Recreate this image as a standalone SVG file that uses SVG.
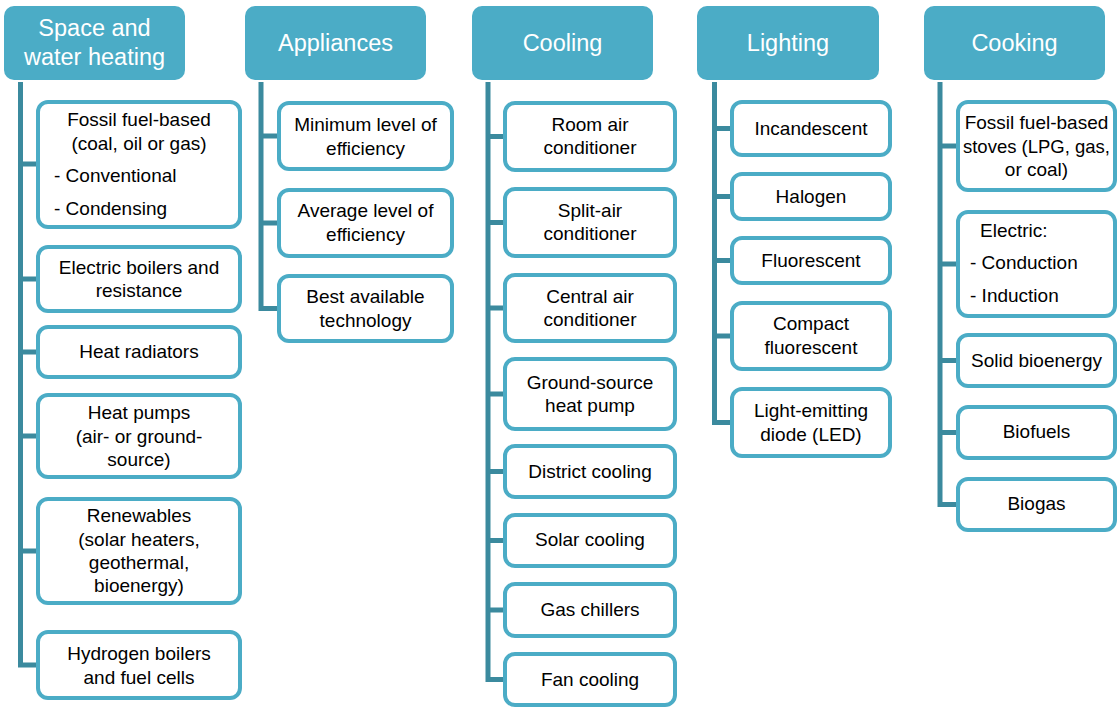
<svg xmlns="http://www.w3.org/2000/svg" width="1118" height="708" viewBox="0 0 1118 708">
<style>
.hdr{fill:#4BACC6}
.hdr-t{font-family:"Liberation Sans",Arial,sans-serif;font-size:23.5px;fill:#fff;text-anchor:middle}
.box{fill:#fff;stroke:#4BACC6;stroke-width:4}
.t{font-family:"Liberation Sans",Arial,sans-serif;font-size:19px;fill:#000;text-anchor:middle}
.tl{font-family:"Liberation Sans",Arial,sans-serif;font-size:19px;fill:#000}
.con{fill:none;stroke:#3B8A9E;stroke-width:5}
</style>
<rect width="1118" height="708" fill="#fff"/>
<g id="connectors">
<path class="con" d="M20.5 82 V665 H38 M20.5 164 H38 M20.5 279 H38 M20.5 352 H38 M20.5 436 H38 M20.5 551 H38"/>
<path class="con" d="M261 82 V308.5 H279 M261 136 H279 M261 223 H279"/>
<path class="con" d="M488 82 V679.5 H505 M488 136.5 H505 M488 222.5 H505 M488 308 H505 M488 394 H505 M488 471.5 H505 M488 540.5 H505 M488 610 H505"/>
<path class="con" d="M714.5 82 V422.5 H732 M714.5 128.5 H732 M714.5 196.5 H732 M714.5 260.5 H732 M714.5 336 H732"/>
<path class="con" d="M940 82 V504.5 H958 M940 146 H958 M940 264 H958 M940 360.5 H958 M940 432.5 H958"/>
</g>
<g id="h-space"><rect class="hdr" x="4" y="6" width="181" height="74" rx="10"/><text class="hdr-t" x="94.5" y="36">Space and</text><text class="hdr-t" x="94.5" y="65">water heating</text></g>
<g id="h-appliances"><rect class="hdr" x="245" y="6" width="181" height="74" rx="10"/><text class="hdr-t" x="335.5" y="51">Appliances</text></g>
<g id="h-cooling"><rect class="hdr" x="472" y="6" width="181" height="74" rx="10"/><text class="hdr-t" x="562.5" y="51">Cooling</text></g>
<g id="h-lighting"><rect class="hdr" x="697" y="6" width="182" height="74" rx="10"/><text class="hdr-t" x="788" y="51">Lighting</text></g>
<g id="h-cooking"><rect class="hdr" x="924" y="6" width="181" height="74" rx="10"/><text class="hdr-t" x="1014.5" y="51">Cooking</text></g>

<g id="s1"><rect class="box" x="38" y="102" width="202" height="125" rx="10"/><text class="t" x="139" y="126">Fossil fuel-based</text><text class="t" x="139" y="150">(coal, oil or gas)</text><text class="tl" x="54" y="182">- Conventional</text><text class="tl" x="54" y="215">- Condensing</text></g>
<g id="s2"><rect class="box" x="38" y="247" width="202" height="64" rx="10"/><text class="t" x="139" y="274">Electric boilers and</text><text class="t" x="139" y="297">resistance</text></g>
<g id="s3"><rect class="box" x="38" y="327" width="202" height="50" rx="10"/><text class="t" x="139" y="358">Heat radiators</text></g>
<g id="s4"><rect class="box" x="38" y="395" width="202" height="82" rx="10"/><text class="t" x="139" y="419">Heat pumps</text><text class="t" x="139" y="443">(air- or ground-</text><text class="t" x="139" y="466">source)</text></g>
<g id="s5"><rect class="box" x="38" y="499" width="202" height="104" rx="10"/><text class="t" x="139" y="522">Renewables</text><text class="t" x="139" y="546">(solar heaters,</text><text class="t" x="139" y="569">geothermal,</text><text class="t" x="139" y="592">bioenergy)</text></g>
<g id="s6"><rect class="box" x="38" y="632" width="202" height="66" rx="10"/><text class="t" x="139" y="660">Hydrogen boilers</text><text class="t" x="139" y="684">and fuel cells</text></g>

<g id="a1"><rect class="box" x="279" y="103" width="173" height="66" rx="10"/><text class="t" x="365.5" y="131">Minimum level of</text><text class="t" x="365.5" y="155">efficiency</text></g>
<g id="a2"><rect class="box" x="279" y="190" width="173" height="66" rx="10"/><text class="t" x="365.5" y="217">Average level of</text><text class="t" x="365.5" y="241">efficiency</text></g>
<g id="a3"><rect class="box" x="279" y="276" width="173" height="65" rx="10"/><text class="t" x="365.5" y="303">Best available</text><text class="t" x="365.5" y="327">technology</text></g>

<g id="c1"><rect class="box" x="505" y="103" width="170" height="67" rx="10"/><text class="t" x="590" y="131">Room air</text><text class="t" x="590" y="154">conditioner</text></g>
<g id="c2"><rect class="box" x="505" y="189" width="170" height="67" rx="10"/><text class="t" x="590" y="217">Split-air</text><text class="t" x="590" y="240">conditioner</text></g>
<g id="c3"><rect class="box" x="505" y="275" width="170" height="66" rx="10"/><text class="t" x="590" y="303">Central air</text><text class="t" x="590" y="326">conditioner</text></g>
<g id="c4"><rect class="box" x="505" y="359" width="170" height="70" rx="10"/><text class="t" x="590" y="389">Ground-source</text><text class="t" x="590" y="412">heat pump</text></g>
<g id="c5"><rect class="box" x="505" y="446" width="170" height="51" rx="10"/><text class="t" x="590" y="478">District cooling</text></g>
<g id="c6"><rect class="box" x="505" y="515" width="170" height="51" rx="10"/><text class="t" x="590" y="546">Solar cooling</text></g>
<g id="c7"><rect class="box" x="505" y="584" width="170" height="52" rx="10"/><text class="t" x="590" y="616">Gas chillers</text></g>
<g id="c8"><rect class="box" x="505" y="654" width="170" height="51" rx="10"/><text class="t" x="590" y="686">Fan cooling</text></g>

<g id="l1"><rect class="box" x="732" y="102" width="158" height="53" rx="10"/><text class="t" x="811" y="135">Incandescent</text></g>
<g id="l2"><rect class="box" x="732" y="174" width="158" height="45" rx="10"/><text class="t" x="811" y="203">Halogen</text></g>
<g id="l3"><rect class="box" x="732" y="238" width="158" height="45" rx="10"/><text class="t" x="811" y="267">Fluorescent</text></g>
<g id="l4"><rect class="box" x="732" y="303" width="158" height="66" rx="10"/><text class="t" x="811" y="330">Compact</text><text class="t" x="811" y="354">fluorescent</text></g>
<g id="l5"><rect class="box" x="732" y="389" width="158" height="67" rx="10"/><text class="t" x="811" y="417">Light-emitting</text><text class="t" x="811" y="441">diode (LED)</text></g>

<g id="k1"><rect class="box" x="958" y="102" width="157" height="88" rx="10"/><text class="t" x="1036.5" y="129">Fossil fuel-based</text><text class="t" x="1036.5" y="153" style="font-size:18.5px">stoves (LPG, gas,</text><text class="t" x="1036.5" y="176">or coal)</text></g>
<g id="k2"><rect class="box" x="958" y="212" width="157" height="104" rx="10"/><text class="tl" x="980" y="237">Electric:</text><text class="tl" x="970" y="269">- Conduction</text><text class="tl" x="970" y="302">- Induction</text></g>
<g id="k3"><rect class="box" x="958" y="335" width="157" height="51" rx="10"/><text class="t" x="1036.5" y="367">Solid bioenergy</text></g>
<g id="k4"><rect class="box" x="958" y="407" width="157" height="51" rx="10"/><text class="t" x="1036.5" y="438">Biofuels</text></g>
<g id="k5"><rect class="box" x="958" y="479" width="157" height="51" rx="10"/><text class="t" x="1036.5" y="510">Biogas</text></g>
</svg>
